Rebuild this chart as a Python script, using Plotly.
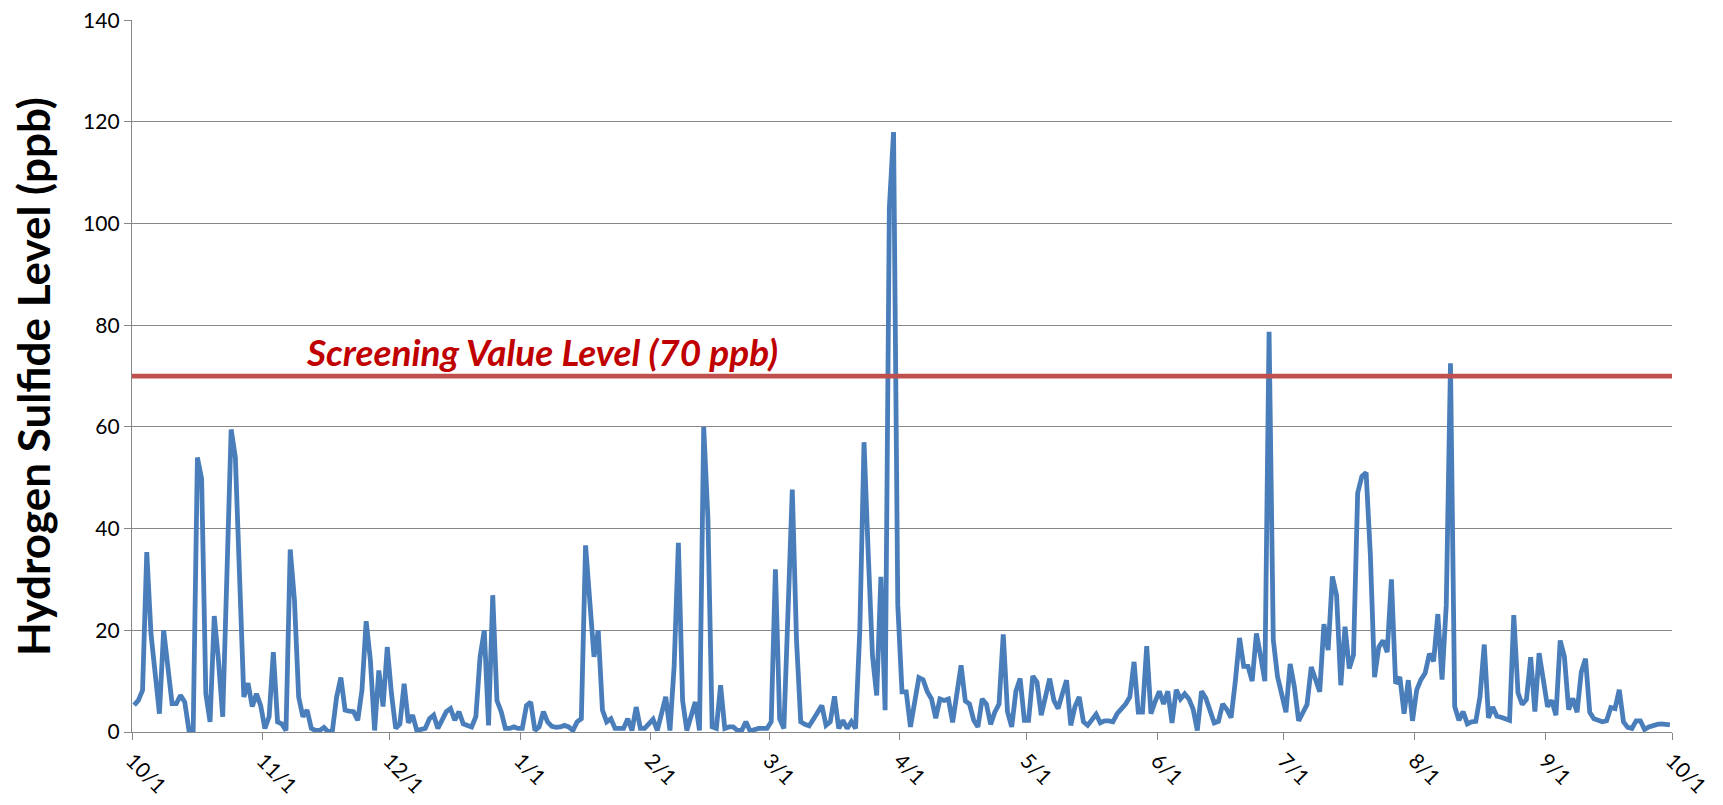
import pandas as pd
import plotly.graph_objects as go

# Daily hydrogen sulfide levels (ppb), one list per month, 10/1 through 9/30
oct_vals = [5.3, 6.2, 8.2, 35.4, 19.3, 11.5, 3.6, 20, 13.4, 5.6, 5.6, 7.2, 5.9, 0.3, 0.3,
            54, 49.8, 7.5, 2, 22.8, 14, 3, 31, 59.5, 54, 33, 6.9, 9.6, 5, 7.5, 5.2]
nov_vals = [0.7, 3, 15.7, 2, 1.6, 0.3, 35.9, 26, 6.9, 3, 4.3, 0.7, 0.3, 0.3, 0.9,
            0, 0.3, 6.9, 10.7, 4.3, 4.1, 4, 2.3, 8.2, 21.8, 14.1, 0.3, 12.1, 5, 16.7]
dec_vals = [7.5, 0.7, 1.6, 9.5, 1.8, 3.3, 0.3, 0.5, 0.7, 2.6, 3.3, 0.7, 2.3, 4, 4.6,
            2.3, 4, 1.6, 1.3, 1, 3, 14.8, 20, 1.3, 26.9, 6.2, 4, 0.7, 0.7, 1, 0.7]
jan_vals = [0.7, 5.2, 5.9, 0.3, 1, 4, 2, 1.1, 0.9, 1, 1.3, 1, 0.3, 2, 2.6,
            36.7, 26, 14.8, 20, 4.3, 2, 2.6, 0.7, 0.7, 0.7, 2.6, 0.3, 4.9, 0.7, 0.7, 1.5]
feb_vals = [2.5, 0.3, 3.6, 6.9, 0.3, 13, 37.2, 6.2, 0.3, 3, 5.9, 0.3, 60, 42,
            1, 0.7, 9.2, 0.7, 1, 1, 0.3, 0.3, 2, 0.2, 0.5, 0.7, 0.7, 0.7]
mar_vals = [2, 32, 2.6, 0.7, 24, 47.7, 18, 2, 1.5, 1.2, 2.5, 4, 5.2, 1.3, 2,
            7, 0.7, 2.3, 0.7, 2, 0.7, 20, 57, 35, 15, 7.2, 30.5, 4.3, 103, 118, 25]
apr_vals = [7.9, 7.9, 1, 5.5, 10.7, 10.3, 7.9, 6.5, 2.7, 6.5, 6.2, 6.5, 1.9, 7.5, 13.1,
            6.1, 5.5, 2.3, 1, 6.5, 5.5, 1.5, 3.9, 5.5, 19.2, 4, 1, 8, 10.5, 2.3]
may_vals = [2.3, 11, 9.8, 3.3, 7, 10.5, 6.2, 4.6, 7.5, 10.2, 1.3, 5, 6.9, 2, 1.3,
            2.5, 3.5, 1.8, 2.2, 2.2, 2, 3.6, 4.5, 5.5, 6.9, 13.8, 3.9, 3.9, 16.9, 3.6, 6]
jun_vals = [8, 5.5, 8, 1.8, 8.3, 6.5, 7.5, 6.5, 4.5, 0.3, 8, 6.7, 4.5, 1.8, 2.1,
            5.5, 4.4, 2.8, 10, 18.5, 12.9, 12.9, 10, 19.4, 14.9, 10, 78.7, 18.1, 10.9, 7]
jul_vals = [3.9, 13.4, 8.9, 2.2, 4, 5.4, 12.8, 10, 7.9, 21.2, 16.1, 30.6, 26.9, 9.2, 20.7,
            12.5, 15.1, 47, 50.3, 51, 35, 10.8, 16.7, 18, 15.7, 30, 9.5, 10.8, 3.6, 10.2, 2.2]
aug_vals = [8.3, 10.3, 11.6, 15.4, 13.9, 23.2, 10.3, 25, 72.5, 5, 2.3, 4, 1.6, 2, 2.1,
            7, 17.2, 2.8, 4.9, 3.1, 2.9, 2.6, 2.3, 23, 7.7, 5.4, 6.4, 14.7, 4, 15.5, 10]
sep_vals = [5, 6.2, 3.3, 18, 14.8, 4.4, 6.6, 3.9, 11.8, 14.4, 3.9, 2.6, 2.3, 2, 2.2,
            4.8, 4.6, 8.3, 2, 0.9, 0.7, 2.2, 2.2, 0.5, 1, 1.3, 1.5, 1.6, 1.6, 1.4]

screening_value = 70
screening_label = "Screening Value Level (70 ppb)"
y_title = "Hydrogen Sulfide Level (ppb)"
y_ticks = [0, 20, 40, 60, 80, 100, 120, 140]
tick_dates = ["2010-10-01", "2010-11-01", "2010-12-01", "2011-01-01", "2011-02-01",
              "2011-03-01", "2011-04-01", "2011-05-01", "2011-06-01", "2011-07-01",
              "2011-08-01", "2011-09-01", "2011-10-01"]
tick_labels = ["10/1", "11/1", "12/1", "1/1", "2/1", "3/1", "4/1", "5/1", "6/1",
               "7/1", "8/1", "9/1", "10/1"]

values = (oct_vals + nov_vals + dec_vals + jan_vals + feb_vals + mar_vals + apr_vals +
          may_vals + jun_vals + jul_vals + aug_vals + sep_vals)
dates = pd.date_range("2010-10-01", periods=len(values), freq="D") + pd.Timedelta(hours=12)

FONT = "Lato"
GRID = "#878787"

fig = go.Figure()
fig.add_trace(go.Scatter(
    x=dates, y=values, mode="lines",
    line=dict(color="#4A7EBB", width=4.8),
    showlegend=False, hoverinfo="x+y",
))
fig.add_trace(go.Scatter(
    x=[tick_dates[0], tick_dates[-1]], y=[screening_value, screening_value],
    mode="lines", line=dict(color="#C0504D", width=4.6),
    showlegend=False, hoverinfo="skip",
))

fig.add_annotation(
    x=0.266, xref="paper", y=screening_value, yref="y",
    text="<b><i>" + screening_label + "</i></b>", showarrow=False,
    xanchor="center", yanchor="bottom", yshift=0,
    font=dict(family=FONT, size=37, color="#C00000"),
)
fig.add_annotation(
    x=-0.0643, xref="paper", y=0.5, yref="paper",
    text="<b>" + y_title + "</b>", showarrow=False, textangle=-90,
    xanchor="center", yanchor="middle",
    font=dict(family=FONT, size=44, color="#000000"),
)

fig.update_layout(
    width=1715, height=797,
    margin=dict(l=124, r=51, t=12, b=73, autoexpand=False),
    paper_bgcolor="white", plot_bgcolor="white",
    font=dict(family=FONT, size=21, color="#000000"),
    xaxis=dict(
        type="date", range=[tick_dates[0], tick_dates[-1]], automargin=False,
        tickmode="array", tickvals=tick_dates, ticktext=tick_labels,
        tickangle=45, showgrid=False, zeroline=False, ticklabeloverflow="allow",
        showline=True, linecolor=GRID, linewidth=1.4,
        ticks="outside", ticklen=7, tickcolor=GRID, tickwidth=1.4,
        tickfont=dict(family=FONT, size=21),
    ),
    yaxis=dict(
        range=[0, 140.03], tickmode="array", tickvals=y_ticks, automargin=False,
        ticklabeloverflow="allow",
        showgrid=True, gridcolor=GRID, gridwidth=1.4, zeroline=False,
        showline=True, linecolor=GRID, linewidth=1.4,
        ticks="outside", ticklen=7, tickcolor=GRID, tickwidth=1.4,
        tickfont=dict(family=FONT, size=21),
    ),
)

fig.write_html("out.html")
